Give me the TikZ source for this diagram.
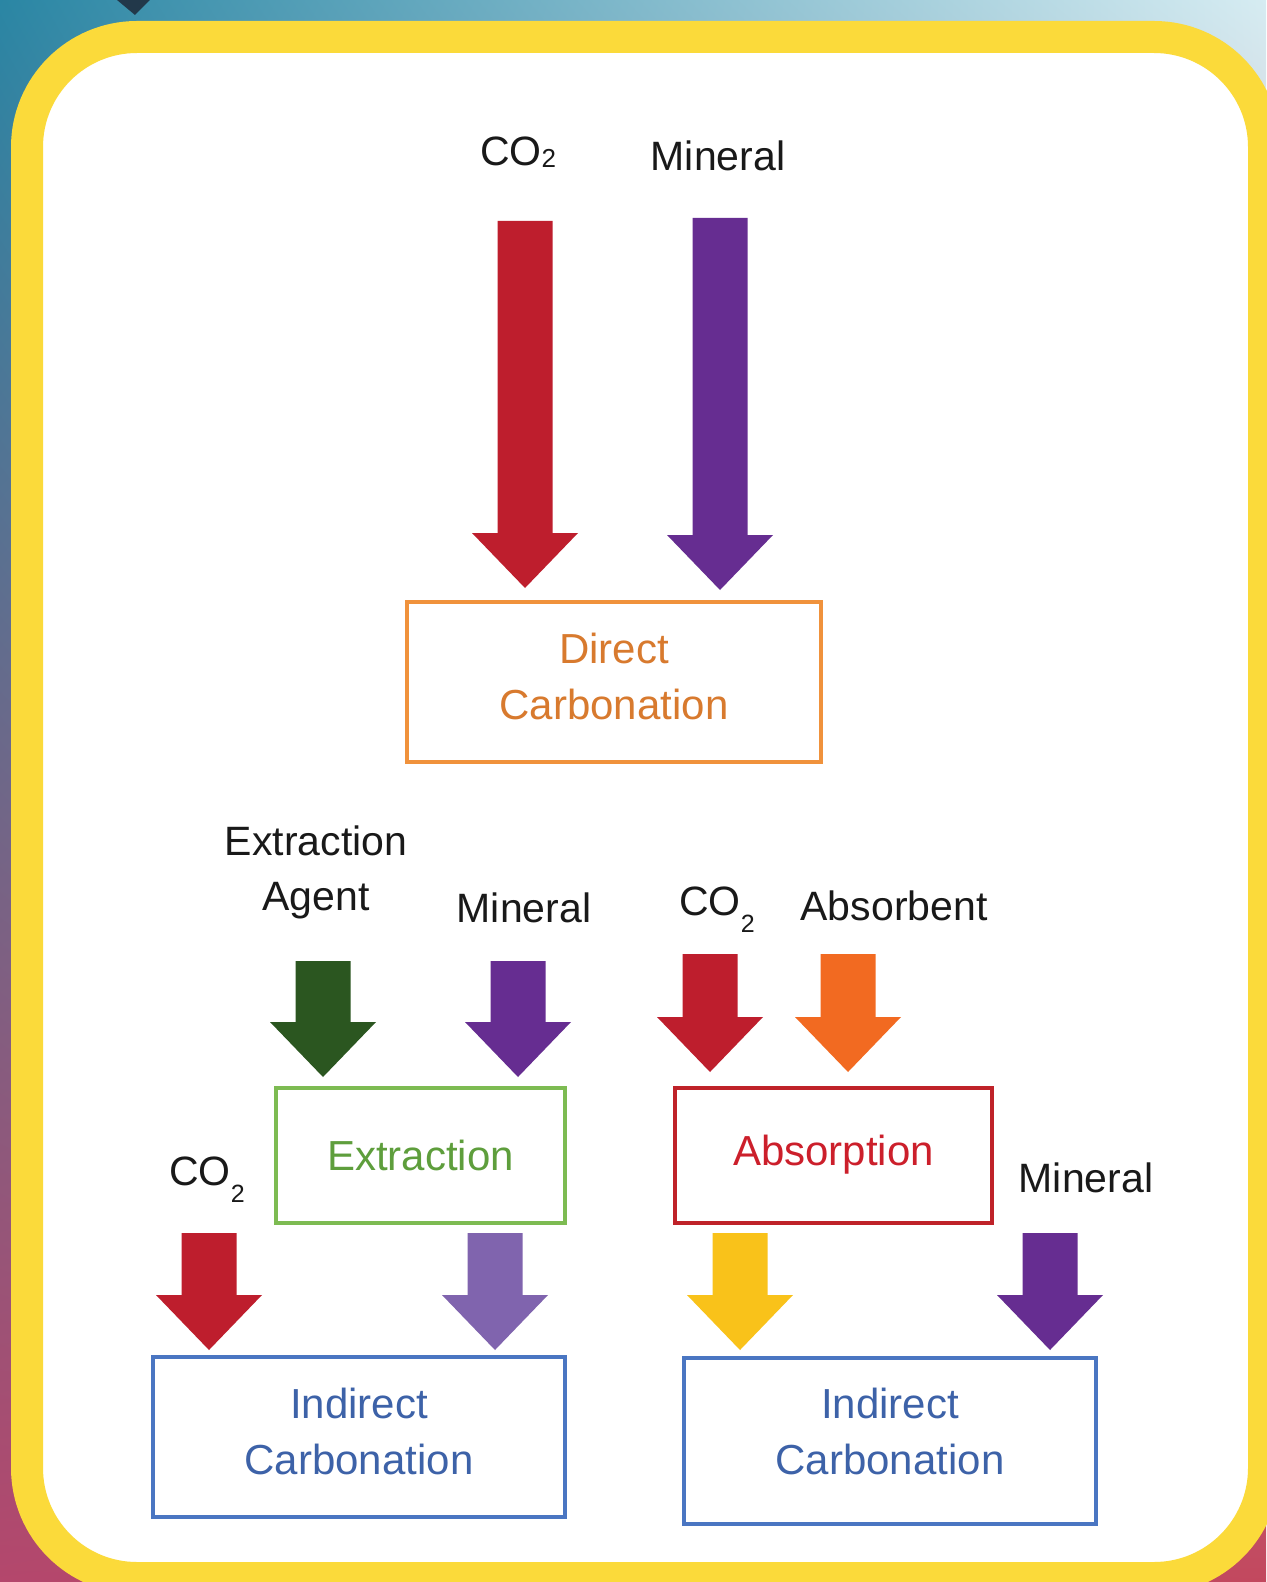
\documentclass[tikz,border=0pt]{standalone}
\usepackage{fontspec}
\setmainfont{Liberation Sans}
\usetikzlibrary{calc,shadings}
\definecolor{frame}{HTML}{FBDA3A}
\definecolor{bgtl}{HTML}{2A86A4}
\definecolor{bgtr}{HTML}{D6ECF2}
\definecolor{bgbl}{HTML}{B4476C}
\definecolor{bgbr}{HTML}{C2485E}
\definecolor{bgdark}{HTML}{22384A}
\definecolor{arrred}{HTML}{BE1E2D}
\definecolor{arrpurple}{HTML}{662D91}
\definecolor{arrlilac}{HTML}{8064AE}
\definecolor{arrgreen}{HTML}{2B5620}
\definecolor{arrorange}{HTML}{F26A21}
\definecolor{arryellow}{HTML}{F9C21A}
\definecolor{dirline}{HTML}{F0923C}
\definecolor{dirtext}{HTML}{D87A2E}
\definecolor{extline}{HTML}{7DBB52}
\definecolor{exttext}{HTML}{5E9E3C}
\definecolor{absline}{HTML}{BF2229}
\definecolor{abstext}{HTML}{CC1F2B}
\definecolor{indline}{HTML}{4A76C2}
\definecolor{indtext}{HTML}{3D62A8}
\newcommand{\cosmall}{CO\raisebox{-1pt}{\fontsize{13}{13}\selectfont 2}}
\newcommand{\cosub}{CO\raisebox{-8.5pt}{\fontsize{12.5}{12.5}\selectfont 2}}

\begin{document}
\begin{tikzpicture}[x=.5pt,y=-.5pt,
    lbl/.style={font=\fontsize{20.5}{27.5}\selectfont,align=center,inner sep=0pt,text=black!90},
    box/.style={draw,line width=2pt,align=center,inner sep=0pt,font=\fontsize{21}{28}\selectfont},
    twoline/.style={text depth=6pt},
    fat/.style={to path={($(\tikztostart)+(-27.5,0)$) -- ($(\tikztostart)+(27.5,0)$)
      -- ($(\tikztotarget)+(27.5,-55)$) -- ($(\tikztotarget)+(53,-55)$) -- (\tikztotarget)
      -- ($(\tikztotarget)+(-53,-55)$) -- ($(\tikztotarget)+(-27.5,-55)$) -- cycle}}]
  \useasboundingbox (0,0) rectangle (1266,1582);
  % background and frame
  \shade[upper left=bgtl,upper right=bgtr,lower left=bgbl,lower right=bgbr] (0,0) rectangle (1266,1582);
  \fill[bgdark] (117,0) -- (150,0) -- (135,15) -- cycle;
  \filldraw[draw=frame,fill=white,line width=16pt,rounded corners=55pt] (27,37) rectangle (1264,1578);

  % boxes
  \node[box,twoline,draw=dirline,text=dirtext,minimum width=207pt,minimum height=80pt] (direct) at (614,682) {Direct\\Carbonation};
  \node[box,draw=extline,text=exttext,minimum width=144.5pt,minimum height=67.5pt] (extract) at (420.5,1155.5) {Extraction};
  \node[box,draw=absline,text=abstext,minimum width=158.5pt,minimum height=67.5pt] (absorb) at (833.5,1155) {Absorption};
  \node[box,twoline,draw=indline,text=indtext,minimum width=206pt,minimum height=80pt] (indleft) at (359,1437) {Indirect\\Carbonation};
  \node[box,twoline,text depth=10pt,draw=indline,text=indtext,minimum width=206pt,minimum height=83pt] (indright) at (890,1441) {Indirect\\Carbonation};

  % labels
  \node[lbl,anchor=base] (co2top) at (518,166) {\cosmall};
  \node[lbl,anchor=base] (mintop) at (718,171) {Mineral};
  \node[lbl,anchor=base] (agent) at (316,910) {Extraction\\Agent};
  \node[lbl,anchor=base] (minmid) at (524,922) {Mineral};
  \node[lbl,anchor=base] (co2mid) at (717,915) {\cosub};
  \node[lbl,anchor=base] (absorbent) at (894,920) {Absorbent};
  \node[lbl,anchor=base] (co2low) at (207,1185) {\cosub};
  \node[lbl,anchor=base] (minlow) at (1086,1192) {Mineral};

  % block arrows
  \foreach \nm/\x/\ya/\yb/\col in {dc/525/221/588/arrred,dm/720/218/590/arrpurple,
      ea/323/961/1077/arrgreen,em/518/961/1077/arrpurple,
      ac/710/954/1072/arrred,ab/848/954/1072/arrorange,
      lc/209/1233/1350/arrred,le/495/1233/1350/arrlilac,
      ra/740/1233/1350/arryellow,rm/1050/1233/1350/arrpurple} {
    \coordinate (\nm s) at (\x,\ya);
    \coordinate (\nm t) at (\x,\yb);
    \fill[\col] (\nm s) to[fat] (\nm t);
  }
\end{tikzpicture}
\end{document}
